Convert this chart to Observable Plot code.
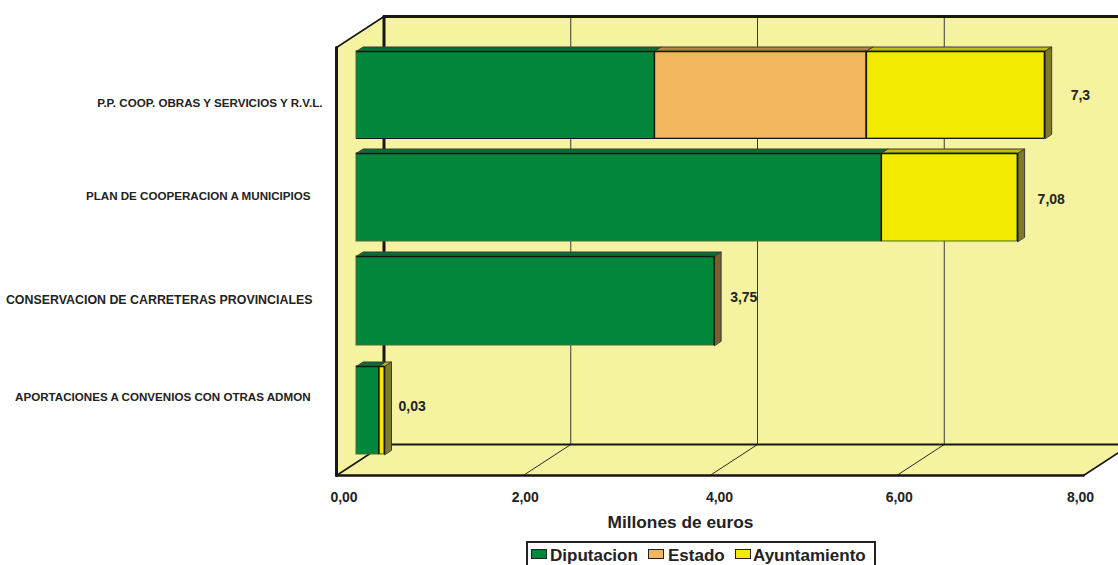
<!DOCTYPE html>
<html><head><meta charset="utf-8">
<script src="https://cdn.jsdelivr.net/npm/d3@7"></script>
<script src="https://cdn.jsdelivr.net/npm/@observablehq/plot@0.6"></script>
<style>
html,body{margin:0;padding:0;width:1118px;height:565px;overflow:hidden;background:#fff;font-family:"Liberation Sans",Arial,sans-serif}
#chart svg{display:block}
#legend{position:absolute;left:526px;top:541px;width:346px;height:40px;border:2px solid #222;box-sizing:content-box;color:#222;font-weight:bold;font-size:17px}
#legend .sw{position:absolute;top:6px;width:14px;height:8px;border:1.5px solid #222}
#legend .lb{position:absolute;top:3px;line-height:19px;white-space:nowrap}
</style></head><body>
<div id="chart"></div>
<div id="legend"></div>
<script>
// ---- data ----
const categories = ["P.P. COOP. OBRAS Y SERVICIOS Y R.V.L.","PLAN DE COOPERACION A MUNICIPIOS","CONSERVACION DE CARRETERAS PROVINCIALES","APORTACIONES A CONVENIOS CON OTRAS ADMON"];
const seriesNames = ["Diputacion","Estado","Ayuntamiento"];
const diputacion = [3.19,5.62,3.83,0.24];
const estado = [2.27,0,0,0];
const ayuntamiento = [1.91,1.46,0,0.06];
const totalLabels = ["7,3","7,08","3,75","0,03"];
const xTicks = [0,2,4,6,8];
const xTitle = "Millones de euros";

// ---- styling / layout ----
const faceColors = ["#00873C","#F2B65F","#F2EA00"];
const topColors = ["#006F35","#B5853F","#C4BC00"];
const sideColors = ["#7A5E30","#7A5E30","#7F7A26"];
const wallColor = "#F5F2A0", ink = "#161616", soft = "#4C6A34";
const pxPerX = (1083-336)/8;            // x-scale units
const backX = 47.5/pxPerX, backY = 31;  // depth of the box in scale units
const barX = 20/pxPerX;                 // bars' front plane
const barDX = 7/pxPerX, barDY = 4.5;    // bar depth
const rowTop = [424,322,219,109], rowBottom = [337,234,130,21];
const labelRight = [-0.15,-0.278,-0.257,-0.278], labelY = [372,279,175,78];
const labelSize = [11.6,11.6,12.4,11.6];
const totalNudge = [26,20,16,14], totalY = [380,276,178,69];
const tickNudge = [7.5,2,9.5,2.5,-3];

const fnum = d3.formatLocale({decimal:",",thousands:".",grouping:[3],currency:["","€"]}).format(".2f");
const poly = (pts,fill,stroke,sw=1)=>Plot.line(pts,{x:"x",y:"y",fill,stroke,strokeWidth:sw,curve:"linear-closed"});
const seg = (pts,stroke,sw)=>Plot.line(pts,{x:"x",y:"y",stroke,strokeWidth:sw});
const P=(x,y)=>({x,y});
const H = 428; // wall height in y units

const marks = [];
// walls
marks.push(poly([P(0,0),P(0,H),P(backX,H+backY),P(backX,backY)],wallColor,"none"));
marks.push(poly([P(0,0),P(8,0),P(8+backX,backY),P(backX,backY)],wallColor,"none"));
marks.push(poly([P(backX,backY),P(backX,H+backY),P(8+backX,H+backY),P(8+backX,backY)],wallColor,"none"));
// gridlines on back wall and floor
for(const t of xTicks.slice(1,4)){
  marks.push(seg([P(t+backX,backY),P(t+backX,H+backY)],"#3a3a3a",1));
  marks.push(seg([P(t,0),P(t+backX,backY)],"#2a2a2a",1));
}
// frame
marks.push(seg([P(8,0),P(8+backX,backY)],ink,1.5));
marks.push(seg([P(0,0),P(backX,backY)],ink,1.5));
marks.push(seg([P(0,H),P(backX,H+backY)],ink,1.5));
marks.push(seg([P(backX,backY),P(backX,H+backY)],ink,3));
marks.push(seg([P(backX,backY),P(8+backX,backY)],ink,2.2));
marks.push(seg([P(backX,H+backY),P(8+backX,H+backY)],ink,2.8));
marks.push(seg([P(0,0),P(0,H)],ink,3));
marks.push(seg([P(0,0),P(8,0)],ink,2.6));

// stacked bars
const stacked = [];
categories.forEach((c,i)=>{
  let acc = 0;
  [diputacion,estado,ayuntamiento].forEach((arr,s)=>{
    if(arr[i]>0){ stacked.push({category:c,row:i,s,series:seriesNames[s],x1:acc+barX,x2:acc+arr[i]+barX}); acc+=arr[i]; }
  });
});
// depth faces, then front faces
stacked.forEach(d=>{
  const t=rowTop[d.row];
  marks.push(poly([P(d.x1,t),P(d.x2,t),P(d.x2+barDX,t+barDY),P(d.x1+barDX,t+barDY)],topColors[d.s],"#3a3a3a",1));
});
categories.forEach((c,i)=>{
  const last=stacked.filter(d=>d.row===i).at(-1), t=rowTop[i], b=rowBottom[i];
  marks.push(poly([P(last.x2,b),P(last.x2,t),P(last.x2+barDX,t+barDY),P(last.x2+barDX,b+barDY)],sideColors[last.s],"#3a3a3a",1));
});
const faceTop = d=>rowTop[d.row], faceBottom = d=>rowBottom[d.row];
marks.push(Plot.rect(stacked,{x1:"x1",x2:"x2",y1:faceBottom,y2:faceTop,fill:"series",stroke:soft,strokeWidth:1}));
marks.push(Plot.ruleY(stacked,{y:faceTop,x1:"x1",x2:"x2",stroke:ink,strokeWidth:1.5}));
marks.push(Plot.ruleX(stacked,{x:"x2",y1:faceBottom,y2:faceTop,stroke:ink,strokeWidth:1.6}));
marks.push(Plot.ruleY(stacked.filter(d=>d.row===0),{y:faceBottom,x1:"x1",x2:"x2",stroke:ink,strokeWidth:1.2}));

const txt={fontFamily:"Liberation Sans",fontWeight:"bold",fill:"#222"};
// category labels
marks.push(Plot.text(categories,{x:(d,i)=>labelRight[i],y:(d,i)=>labelY[i],text:d=>d,textAnchor:"end",fontSize:(d,i)=>labelSize[i],...txt}));
// total labels
marks.push(Plot.text(totalLabels,{
  x:(d,i)=>stacked.filter(s=>s.row===i).at(-1).x2+totalNudge[i]/pxPerX,
  y:(d,i)=>totalY[i],text:d=>d,textAnchor:"start",fontSize:14,...txt}));
// x tick labels
marks.push(Plot.text(xTicks,{x:(d,i)=>d+tickNudge[i]/pxPerX,y:()=>-22,text:d=>fnum(d),fontSize:14,...txt}));
marks.push(Plot.text([xTitle],{x:()=>3.684,y:()=>-47,text:d=>d,fontSize:17.3,...txt}));

const chart = Plot.plot({
  width:1118,height:540,marginLeft:336,marginRight:35,marginTop:0,marginBottom:65,
  x:{domain:[0,8],axis:null},
  y:{domain:[0,475],axis:null},
  color:{domain:seriesNames,range:faceColors},
  style:{background:"transparent",overflow:"visible"},
  marks
});
document.getElementById("chart").append(chart);

// legend
const swX=[3,120,207], lbX=[22,140,225];
const lg=document.getElementById("legend");
seriesNames.forEach((n,i)=>{
  const s=document.createElement("div");s.className="sw";s.style.left=swX[i]+"px";s.style.background=faceColors[i];lg.append(s);
  const l=document.createElement("div");l.className="lb";l.style.left=lbX[i]+"px";l.textContent=n;lg.append(l);
});
</script>
</body></html>
